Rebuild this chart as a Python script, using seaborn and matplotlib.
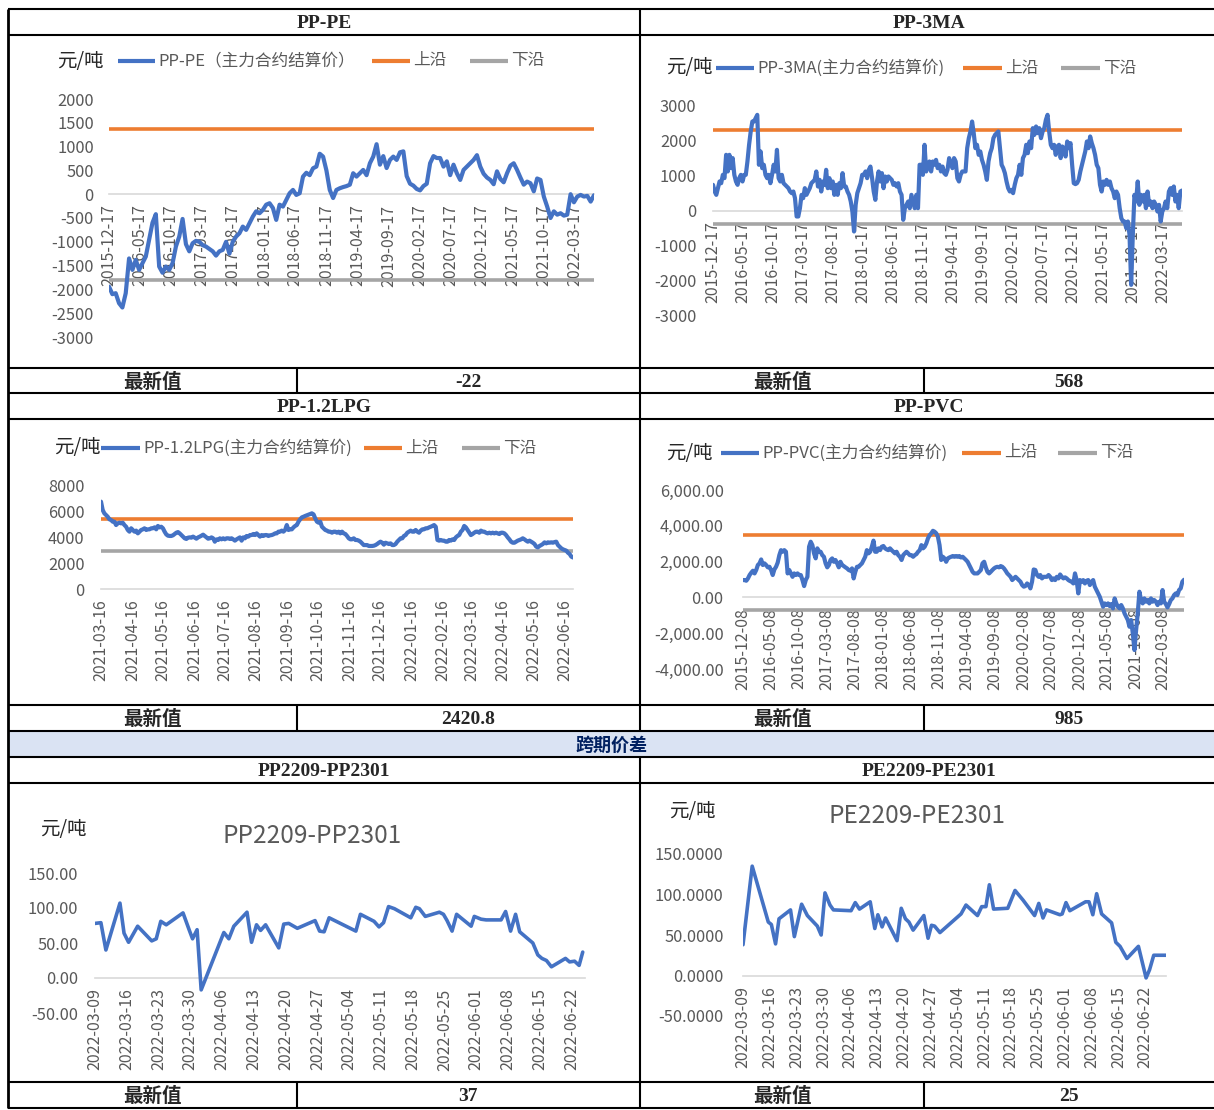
import matplotlib
matplotlib.use("Agg")
import matplotlib.pyplot as plt
import matplotlib.dates as mdates
import pandas as pd
import seaborn as sns
from matplotlib.lines import Line2D
from matplotlib.patches import Rectangle
from matplotlib.ticker import FuncFormatter

sns.set_theme(style="white")
plt.rcParams["font.family"] = ["Noto Sans CJK SC", "DejaVu Sans"]
plt.rcParams["axes.unicode_minus"] = False

# ---------------- data ----------------
# PP-PE spread, 2015-12-17 .. 2022-06-20, evenly spaced readings
pp_pe = [-1940, -2100, -2080, -2290, -2380, -2080, -1350, -1590, -1380, -1590,
         -1450, -1310, -960, -600, -420, -1520, -1650, -1520, -1590, -1450,
         -1100, -890, -520, -1050, -1200, -1030, -980, -1000, -1070, -1100,
         -1150, -1200, -1290, -1200, -1170, -1000, -1250, -1000, -890, -820,
         -680, -750, -610, -470, -360, -400, -330, -220, -190, -290,
         -540, -220, -260, -120, 20, 90, -15, 20, 370, 450,
         400, 545, 580, 850, 790, 500, 90, -80, 90, 125,
         150, 170, 200, 440, 370, 440, 510, 400, 650, 790,
         1050, 620, 800, 550, 720, 790, 720, 880, 900, 380,
         220, 180, 110, 80, 170, 220, 650, 800, 760, 760,
         580, 690, 400, 620, 440, 300, 510, 580, 650, 720,
         820, 580, 430, 350, 300, 210, 480, 320, 250, 440,
         600, 650, 510, 350, 200, 265, 230, 60, 330, 300,
         -50, -260, -500, -360, -430, -400, -450, -430, 0, -170,
         -50, -15, -50, -35, -155, -22]
pp_pe_upper, pp_pe_lower = 1360, -1800

# PP-3MA spread, 2015-12-17 .. 2022-06-23
pp_3ma = [730, 540, 445, 635, 825, 777, 1014, 920, 1583, 1110,
          1583, 1204, 1490, 1014, 825, 730, 920, 1014, 825, 1014,
          1014, 1394, 1868, 2247, 2530, 2530, 2626, 2720, 1300, 1680,
          1204, 1300, 1014, 920, 1014, 777, 1014, 1300, 1110, 1725,
          920, 825, 1014, 777, 730, 683, 635, 540, 493, 540,
          350, -170, -170, 66, 445, 350, 635, 445, 540, 635,
          777, 825, 872, 1110, 683, 872, 540, 825, 730, 1157,
          635, 920, 635, 825, 445, 730, 445, 777, 635, 1062,
          683, 683, 540, 445, 256, -28, -597, 161, 493, 635,
          777, 1014, 1014, 1110, 920, 1157, 1250, 920, 540, 303,
          825, 1110, 825, 1062, 635, 967, 825, 967, 920, 872,
          730, 777, 683, 777, 540, 445, -265, 66, 161, 256,
          66, 445, 256, 66, 445, 66, 1300, 1300, 1014, 1868,
          1110, 1300, 1394, 1110, 1394, 1300, 1441, 1204, 1300, 1110,
          1250, 1062, 1014, 1157, 1490, 1346, 1204, 1490, 1394, 920,
          825, 1014, 1110, 1110, 1110, 1773, 2057, 2247, 2530, 2200,
          1773, 1868, 1583, 1680, 1441, 1300, 1110, 872, 1394, 1630,
          1773, 2057, 2152, 2200, 2247, 1773, 1300, 1204, 1062, 825,
          635, 540, 588, 493, 730, 920, 1014, 1300, 1014, 1490,
          1583, 1868, 1630, 1962, 1773, 2341, 2152, 2389, 2200, 2341,
          2057, 2247, 2341, 2578, 2720, 2247, 1868, 1773, 1868, 1583,
          1820, 1868, 1490, 1820, 1773, 1536, 1962, 1773, 1915, 1300,
          777, 750, 777, 872, 1110, 1300, 1490, 1680, 1962, 1773,
          2105, 1915, 1773, 1583, 1300, 1204, 730, 540, 825, 730,
          872, 730, 825, 635, 540, 350, 540, 445, 66, -218,
          -313, -313, -503, -313, -692, -2114, -692, 445, 256, 825,
          161, 445, 256, 445, 66, 540, 161, 256, 66, 256,
          161, -28, 161, -313, -28, 66, 256, 66, 540, 635,
          445, 683, 256, 445, 66, 540, 568]
pp_3ma_upper, pp_3ma_lower = 2300, -370

# PP-1.2LPG spread, 2021-03-16 .. 2022-06-24
pp_lpg = [6720, 6080, 5820, 5690, 5560, 5360, 5310, 5180, 5180, 4920,
          5050, 5100, 5050, 5100, 4920, 4790, 4540, 4410, 4670, 4540,
          4410, 4490, 4280, 4410, 4540, 4590, 4670, 4540, 4590, 4590,
          4670, 4670, 4740, 4590, 4850, 4740, 4790, 4670, 4410, 4200,
          4100, 4080, 4080, 4130, 4230, 4330, 4380, 4280, 4150, 4030,
          3900, 3850, 3950, 3970, 3950, 4030, 3950, 3870, 3970, 4030,
          4100, 4180, 4080, 3970, 3870, 3900, 3970, 3900, 3640, 3820,
          3770, 3900, 3820, 3900, 3820, 3900, 3900, 3850, 3900, 3820,
          3720, 3820, 3900, 3970, 3720, 3970, 3900, 4080, 4030, 4150,
          4150, 4230, 4150, 4280, 4150, 4030, 4150, 4080, 4150, 4150,
          4080, 4130, 4150, 4200, 4280, 4280, 4410, 4410, 4490, 4410,
          4540, 4920, 4540, 4590, 4590, 4740, 4850, 4920, 5180, 5360,
          5510, 5560, 5620, 5670, 5720, 5770, 5820, 5740, 5430, 5180,
          5100, 5180, 4790, 4670, 4540, 4490, 4410, 4410, 4330, 4410,
          4410, 4330, 4410, 4280, 4410, 4280, 4230, 4080, 3900, 3820,
          3820, 3900, 3770, 3770, 3720, 3640, 3510, 3380, 3380, 3380,
          3310, 3310, 3310, 3330, 3380, 3460, 3560, 3640, 3560, 3410,
          3560, 3510, 3460, 3510, 3380, 3380, 3460, 3640, 3770, 3900,
          3900, 4080, 4150, 4330, 4410, 4490, 4410, 4410, 4540, 4410,
          4330, 4490, 4590, 4590, 4670, 4670, 4740, 4790, 4850, 4920,
          4790, 3770, 3720, 3770, 3720, 3720, 3640, 3640, 3770, 3720,
          3820, 3770, 3970, 4080, 4150, 4410, 4540, 4850, 4740, 4540,
          4330, 4150, 4230, 4330, 4410, 4410, 4330, 4490, 4410, 4410,
          4330, 4280, 4330, 4280, 4330, 4280, 4330, 4280, 4230, 4330,
          4330, 4280, 4150, 3970, 3820, 3640, 3560, 3560, 3640, 3720,
          3770, 3820, 3900, 3820, 3720, 3640, 3720, 3640, 3560, 3460,
          3260, 3200, 3310, 3380, 3460, 3590, 3510, 3590, 3560, 3590,
          3560, 3610, 3640, 3380, 3260, 3130, 3050, 3000, 2950, 2790,
          2690, 2490, 2420.8]
pp_lpg_upper, pp_lpg_lower = 5350, 2950

# PP-PVC spread, 2015-12-08 .. 2022-06-29
pp_pvc = [968, 968, 930, 1060, 1250, 1380, 1490, 1340, 1530, 1810,
          1900, 2120, 1810, 1900, 1810, 1680, 1710, 1530, 1250, 1560,
          1710, 1940, 2360, 2640, 2550, 2640, 2550, 1340, 1530, 1340,
          1150, 1340, 1250, 1340, 1250, 1250, 968, 633, 968, 1150,
          2830, 3110, 2920, 2460, 2180, 2740, 2550, 2550, 2360, 2270,
          1900, 1680, 1810, 2090, 2180, 1990, 2090, 1900, 1680, 1990,
          1810, 1750, 1680, 1620, 1530, 1490, 1620, 1060, 1430, 1710,
          1710, 1810, 1900, 2090, 2270, 2640, 2460, 2550, 2830, 3170,
          2550, 2550, 2740, 2640, 2830, 2870, 2740, 2680, 2640, 2740,
          2640, 2550, 2460, 2550, 2360, 2270, 2090, 2360, 2460, 2550,
          2460, 2360, 2360, 2270, 2360, 2420, 2550, 2640, 2920, 2740,
          2830, 3020, 3300, 3480, 3580, 3720, 3670, 3580, 3390, 2920,
          2090, 2270, 2180, 1990, 2180, 2230, 2270, 2310, 2270, 2310,
          2270, 2310, 2230, 2270, 2180, 2090, 1990, 1810, 1620, 1430,
          1340, 1340, 1340, 1430, 1530, 1900, 1990, 1680, 1430, 1340,
          1430, 1530, 1620, 1680, 1710, 1680, 1750, 1710, 1620, 1490,
          1340, 1250, 1150, 968, 1060, 1150, 1060, 968, 875, 690,
          600, 633, 780, 690, 503, 875, 1560, 1530, 1250, 1150,
          1250, 1060, 1150, 1150, 1150, 1250, 1150, 968, 1060, 968,
          1150, 1060, 1280, 1150, 1060, 1120, 1060, 968, 912, 875,
          780, 1340, 968, 223, 968, 875, 968, 780, 930, 968,
          690, 875, 968, 600, 410, 223, 37, -242, -520, -335,
          -428, -335, -484, -372, -614, -56, -335, -520, -614, -428,
          -614, -894, -1080, -1266, -1640, -1266, -2010, -2940, -1830, -894,
          317, -149, -335, -56, -242, -149, -335, -56, -242, -149,
          -242, -428, -242, -335, 410, -242, -372, -559, -372, -149,
          -56, 130, 223, 130, 410, 503, 875, 985]
pp_pvc_upper, pp_pvc_lower = 3500, -700

# calendar spreads: days after 2022-03-09 and values
pp_cal_days = [0.0, 1.3, 2.4, 5.5, 6.4, 7.4, 9.4, 12.5, 13.5, 14.5,
               15.7, 19.4, 20.8, 21.5, 22.5, 23.4, 28.4, 29.5, 30.6, 33.5,
               34.5, 35.6, 36.5, 37.6, 40.5, 41.6, 42.7, 44.6, 48.5, 49.5,
               50.5, 51.6, 57.5, 58.5, 61.5, 62.6, 63.6, 64.7, 66.0, 69.6,
               70.7, 71.5, 72.8, 75.9, 76.8, 77.6, 78.7, 79.7, 82.9, 83.6,
               85.1, 86.2, 89.5, 90.5, 91.6, 92.7, 93.6, 96.5, 97.6, 98.5,
               99.5, 100.6, 103.7, 104.6, 105.7, 106.7, 107.5]
pp_cal = [78, 79, 40, 107, 64, 51, 74, 53, 56, 81,
          76, 93, 68, 56, 69, -17, 65, 56, 74, 94,
          51, 76, 68, 76, 43, 77, 78, 71, 82, 67,
          66, 86, 67, 91, 81, 73, 79, 102, 99, 86,
          101, 99, 88, 94, 91, 82, 67, 91, 74, 88,
          84, 83, 83, 95, 67, 91, 66, 50, 33, 28,
          25, 16, 28, 23, 24, 18, 37]

pe_cal_days = [0.0, 2.4, 6.6, 7.4, 8.5, 9.4, 12.4, 13.4, 15.3, 16.8,
               19.4, 20.4, 21.4, 22.7, 23.6, 28.2, 29.3, 30.4, 33.2, 34.4,
               35.2, 36.3, 37.2, 40.2, 41.3, 42.4, 43.3, 44.4, 47.2, 48.3,
               49.2, 50.0, 51.4, 56.9, 58.2, 61.2, 62.3, 63.4, 64.3, 65.4,
               69.1, 71.0, 73.1, 76.1, 77.2, 78.3, 79.2, 82.7, 83.3, 84.3,
               85.3, 89.4, 90.3, 91.3, 92.3, 93.6, 96.2, 97.3, 98.4, 100.2,
               103.2, 105.2, 106.1, 107.2, 110.4]
pe_cal = [38, 135, 66, 63, 39, 70, 81, 48, 88, 74,
          61, 50, 102, 87, 81, 80, 90, 82, 91, 58,
          75, 60, 71, 43, 83, 70, 66, 56, 74, 46,
          62, 61, 53, 76, 87, 74, 85, 85, 112, 82,
          83, 105, 93, 74, 89, 71, 81, 75, 76, 90,
          80, 91, 91, 75, 101, 76, 65, 41, 36, 21,
          36, -3, 7, 25, 25]

latest = {"PP-PE": "-22", "PP-3MA": "568", "PP-1.2LPG": "2420.8",
          "PP-PVC": "985", "PP2209-PP2301": "37", "PE2209-PE2301": "25"}

BLUE, ORANGE, GREY = "#4472C4", "#ED7D31", "#A5A5A5"
TXT = "#595959"

# ---------------- figure / table frame ----------------
W, H = 1214, 1110
fig = plt.figure(figsize=(W / 100, H / 100), dpi=100)


def fx(x):
    return x / W


def fy(y):
    return 1 - y / H


def seg(x0, y0, x1, y1, color="black", lw=1.5):
    fig.add_artist(Line2D([fx(x0), fx(x1)], [fy(y0), fy(y1)], color=color,
                          lw=lw, solid_capstyle="butt"))


fig.add_artist(Rectangle((fx(8), fy(757)), fx(1214) - fx(8), fy(731) - fy(757),
                         facecolor="#DAE3F3", edgecolor="none", zorder=0))
for y in [9, 35, 368, 393, 419, 705, 731, 757, 783, 1082, 1108]:
    seg(8, y, 1214, y)
seg(8, 9, 8, 1108, lw=2)
seg(640, 9, 640, 731)
seg(640, 757, 640, 1108)
for y0, y1 in [(368, 393), (705, 731), (1082, 1108)]:
    seg(297, y0, 297, y1)
    seg(924, y0, 924, y1)

serif = ["Liberation Serif", "Noto Sans CJK SC"]


def cell_text(x, y, s, **kw):
    fig.text(fx(x), fy(y + 1.5), s, ha="center", va="center", fontsize=14,
             fontweight="bold", family=serif, **kw)


titles = [("PP-PE", 324, 22), ("PP-3MA", 929, 22), ("PP-1.2LPG", 324, 406),
          ("PP-PVC", 929, 406), ("PP2209-PP2301", 324, 770),
          ("PE2209-PE2301", 929, 770)]
for name, cx, cy in titles:
    cell_text(cx, cy, name)
    row_y = {22: 381, 406: 718, 770: 1095}[cy]
    left = cx < 640
    cell_text(152 if left else 782, row_y, "最新值")
    cell_text(468 if left else 1069, row_y, latest[name])

fig.text(fx(611), fy(745), "跨期价差", ha="center", va="center", fontsize=13,
         fontweight="bold", color="#002060")


# ---------------- chart helpers ----------------
def unit_label(x, y):
    fig.text(fx(x), fy(y), "元/吨", ha="left", va="center", fontsize=14,
             color="#262626")


def legend_item(x0, x1, y, color, label):
    seg(x0, y, x1, y, color=color, lw=3)
    fig.text(fx(x1 + 3), fy(y), label, ha="left", va="center", fontsize=12,
             color=TXT)


def panel(box, dates, values, yticks, fmt, xticks, ypad, lw=3.0,
          upper=None, lower=None, xlim=None):
    l, t, r, b = box
    ax = fig.add_axes([fx(l), fy(b), fx(r) - fx(l), fy(t) - fy(b)])
    ax.patch.set_visible(False)
    if upper is not None:
        ax.axhline(upper, color=ORANGE, lw=2.6, zorder=2)
        ax.axhline(lower, color=GREY, lw=2.6, zorder=2)
    sns.lineplot(x=dates, y=values, ax=ax, color=BLUE, linewidth=lw, zorder=3)
    ax.set_xlabel("")
    ax.set_ylabel("")
    ax.set_ylim(yticks[0], yticks[-1])
    ax.set_yticks(yticks)
    ax.yaxis.set_major_formatter(FuncFormatter(lambda v, p: fmt.format(v)))
    lo, hi = xlim if xlim else (dates[0], dates[-1])
    ax.set_xlim(mdates.date2num(lo), mdates.date2num(hi))
    ax.set_xticks(mdates.date2num(xticks.to_pydatetime()))
    ax.set_xticklabels([d.strftime("%Y-%m-%d") for d in xticks])
    for side in ["left", "top", "right"]:
        ax.spines[side].set_visible(False)
    ax.spines["bottom"].set_position(("data", 0))
    ax.spines["bottom"].set_color("#D9D9D9")
    ax.spines["bottom"].set_linewidth(1.2)
    ax.spines["bottom"].set_zorder(1.5)
    ax.tick_params(axis="x", length=4, width=1, color="#D9D9D9", pad=3.5,
                   labelsize=11.5, labelcolor=TXT, labelrotation=90)
    ax.tick_params(axis="y", length=0, pad=ypad, labelsize=11.8, labelcolor=TXT)
    return ax


five_months = pd.DateOffset(months=5)

# PP-PE
d1 = pd.date_range("2015-12-17", "2022-06-20", periods=len(pp_pe))
panel((109, 99, 594, 337), d1, pp_pe, list(range(-3000, 2001, 500)), "{:.0f}",
      pd.date_range("2015-12-17", periods=16, freq=five_months), 11,
      upper=pp_pe_upper, lower=pp_pe_lower)
unit_label(57, 61)
legend_item(118, 155, 61, BLUE, "PP-PE（主力合约结算价）")
legend_item(372, 410, 61, ORANGE, "上沿")
legend_item(470, 508, 61, GREY, "下沿")

# PP-3MA
d2 = pd.date_range("2015-12-17", "2022-06-23", periods=len(pp_3ma))
panel((713, 105, 1182, 316), d2, pp_3ma, list(range(-3000, 3001, 1000)), "{:.0f}",
      pd.date_range("2015-12-17", periods=16, freq=five_months), 12,
      upper=pp_3ma_upper, lower=pp_3ma_lower)
unit_label(666, 68)
legend_item(716, 754, 68, BLUE, "PP-3MA(主力合约结算价)")
legend_item(963, 1002, 68, ORANGE, "上沿")
legend_item(1061, 1100, 68, GREY, "下沿")

# PP-1.2LPG
d3 = pd.date_range("2021-03-16", "2022-06-24", periods=len(pp_lpg))
panel((101, 485, 573, 589), d3, pp_lpg, list(range(0, 8001, 2000)), "{:.0f}",
      pd.date_range("2021-03-16", periods=16, freq=pd.DateOffset(months=1)), 12,
      upper=pp_lpg_upper, lower=pp_lpg_lower)
unit_label(54, 448)
legend_item(101, 140, 448, BLUE, "PP-1.2LPG(主力合约结算价)")
legend_item(364, 402, 448, ORANGE, "上沿")
legend_item(462, 500, 448, GREY, "下沿")

# PP-PVC
d4 = pd.date_range("2015-12-08", "2022-06-29", periods=len(pp_pvc))
panel((743, 490, 1184, 669), d4, pp_pvc, list(range(-4000, 6001, 2000)), "{:,.2f}",
      pd.date_range("2015-12-08", periods=16, freq=five_months), 14,
      upper=pp_pvc_upper, lower=pp_pvc_lower)
unit_label(666, 453)
legend_item(721, 759, 453, BLUE, "PP-PVC(主力合约结算价)")
legend_item(962, 1001, 453, ORANGE, "上沿")
legend_item(1058, 1097, 453, GREY, "下沿")

# calendar spreads
start = pd.Timestamp("2022-03-09")
weekly = pd.date_range(start, periods=16, freq="7D")
d5 = start + pd.to_timedelta(pp_cal_days, unit="D")
panel((95, 873, 585, 1013), d5, pp_cal, [-50, 0, 50, 100, 150], "{:.2f}",
      weekly, 12, lw=2.6, xlim=(start, start + pd.Timedelta(days=108)))
unit_label(40, 829)
fig.text(fx(312), fy(836), "PP2209-PP2301", ha="center", va="center",
         fontsize=17.5, color=TXT)

d6 = start + pd.to_timedelta(pe_cal_days, unit="D")
panel((743, 854, 1166, 1016), d6, pe_cal, [-50, 0, 50, 100, 150], "{:.4f}",
      weekly, 14, lw=2.6)
unit_label(669, 811)
fig.text(fx(917), fy(816), "PE2209-PE2301", ha="center", va="center",
         fontsize=17.5, color=TXT)

fig.savefig("out.png", dpi=100)
